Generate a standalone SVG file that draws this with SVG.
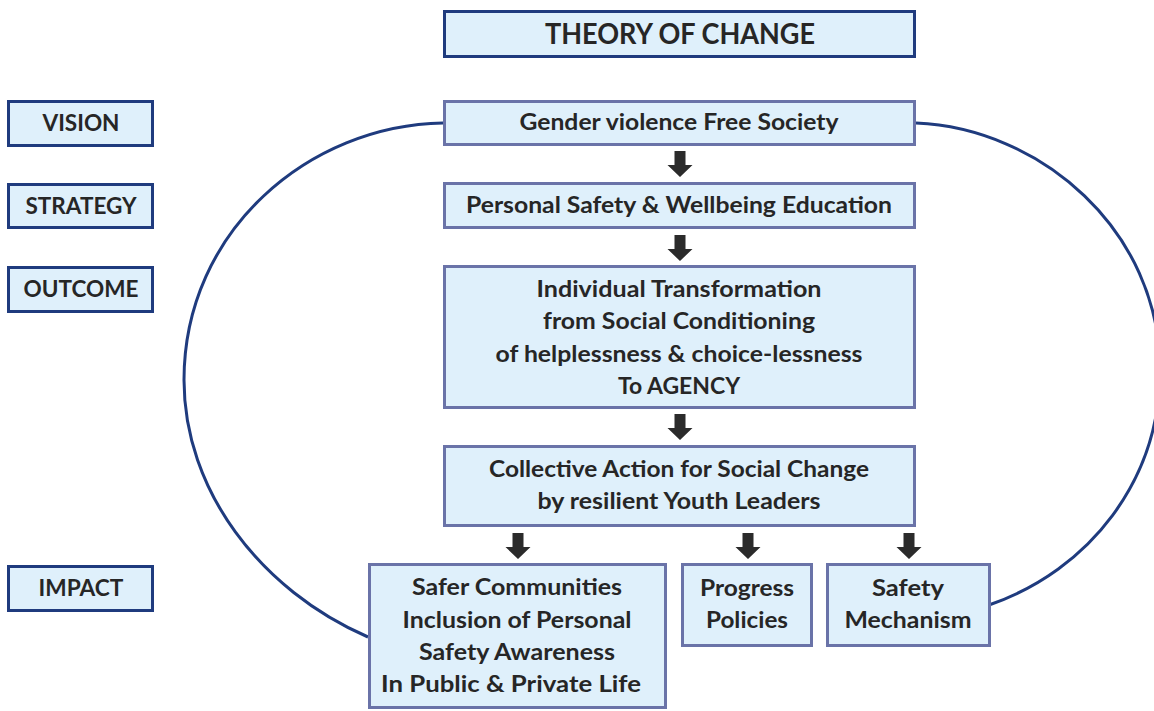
<svg xmlns="http://www.w3.org/2000/svg" width="1154" height="711" viewBox="0 0 1154 711">
<defs>
<style>
.bx{fill:#dff0fb;stroke:#6a73a8;stroke-width:3}
.hd{fill:#dff0fb;stroke:#1f3b7e;stroke-width:3}
.t{font-family:Lato,"Open Sans","Liberation Sans",sans-serif;font-weight:bold;fill:#262626;font-size:22px;text-anchor:middle}
.tt{font-size:28px}
.loop{fill:none;stroke:#1f3b7e;stroke-width:3}
.ar{fill:#2b2b2b}
</style>
<path id="arr" class="ar" d="M-5.5,0 H5.5 V14 H12.5 L0,26 L-12.5,14 H-5.5 Z"/>
</defs>
<rect width="1154" height="711" fill="#ffffff"/>
<g id="connectors">
<path class="loop" d="M443,123 C310,125 184,230 184,380 C184,490 260,590 368,637"/>
<path class="loop" d="M916,123 C1040,128 1160,230 1160,370 C1160,480 1090,570 989,605"/>
<use href="#arr" x="680" y="151"/>
<use href="#arr" x="680" y="235"/>
<use href="#arr" x="680" y="414"/>
<use href="#arr" x="518" y="533"/>
<use href="#arr" x="748" y="533"/>
<use href="#arr" x="909" y="533"/>
</g>
<g id="title">
<rect class="hd" x="444.5" y="11.5" width="470" height="45"/>
<text class="t tt" x="680" y="44" textLength="270" lengthAdjust="spacingAndGlyphs">THEORY OF CHANGE</text>
</g>
<g id="vision-label">
<rect class="hd" x="8.5" y="101.5" width="144" height="44"/>
<text class="t" x="81" y="131" textLength="77" lengthAdjust="spacingAndGlyphs">VISION</text>
</g>
<g id="strategy-label">
<rect class="hd" x="8.5" y="184.5" width="144" height="43"/>
<text class="t" x="81" y="214" textLength="111" lengthAdjust="spacingAndGlyphs">STRATEGY</text>
</g>
<g id="outcome-label">
<rect class="hd" x="8.5" y="267.5" width="144" height="44"/>
<text class="t" x="81" y="297" textLength="115" lengthAdjust="spacingAndGlyphs">OUTCOME</text>
</g>
<g id="impact-label">
<rect class="hd" x="8.5" y="566.5" width="144" height="44"/>
<text class="t" x="81" y="596" textLength="85" lengthAdjust="spacingAndGlyphs">IMPACT</text>
</g>
<g id="vision">
<rect class="bx" x="444.5" y="101.5" width="470" height="43"/>
<text class="t" x="679" y="130" textLength="319" lengthAdjust="spacingAndGlyphs">Gender violence Free Society</text>
</g>
<g id="strategy">
<rect class="bx" x="444.5" y="183.5" width="470" height="44"/>
<text class="t" x="679" y="213" textLength="426" lengthAdjust="spacingAndGlyphs">Personal Safety &amp; Wellbeing Education</text>
</g>
<g id="outcome">
<rect class="bx" x="444.5" y="266.5" width="470" height="141"/>
<text class="t" x="679" y="297" textLength="285" lengthAdjust="spacingAndGlyphs">Individual Transformation</text>
<text class="t" x="679" y="329" textLength="272" lengthAdjust="spacingAndGlyphs">from Social Conditioning</text>
<text class="t" x="679" y="362" textLength="367" lengthAdjust="spacingAndGlyphs">of helplessness &amp; choice-lessness</text>
<text class="t" x="679" y="394" textLength="122" lengthAdjust="spacingAndGlyphs">To AGENCY</text>
</g>
<g id="collective">
<rect class="bx" x="444.5" y="446.5" width="470" height="79"/>
<text class="t" x="679" y="477" textLength="380" lengthAdjust="spacingAndGlyphs">Collective Action for Social Change</text>
<text class="t" x="679" y="509" textLength="283" lengthAdjust="spacingAndGlyphs">by resilient Youth Leaders</text>
</g>
<g id="impact-communities">
<rect class="bx" x="369.5" y="564.5" width="296" height="143"/>
<text class="t" x="517" y="595" textLength="210" lengthAdjust="spacingAndGlyphs">Safer Communities</text>
<text class="t" x="517" y="628" textLength="229" lengthAdjust="spacingAndGlyphs">Inclusion of Personal</text>
<text class="t" x="517" y="660" textLength="196" lengthAdjust="spacingAndGlyphs">Safety Awareness</text>
<text class="t" x="511" y="692" textLength="260" lengthAdjust="spacingAndGlyphs">In Public &amp; Private Life</text>
</g>
<g id="impact-policies">
<rect class="bx" x="682.5" y="564.5" width="129" height="81"/>
<text class="t" x="747" y="596" textLength="94" lengthAdjust="spacingAndGlyphs">Progress</text>
<text class="t" x="747" y="628" textLength="82" lengthAdjust="spacingAndGlyphs">Policies</text>
</g>
<g id="impact-mechanism">
<rect class="bx" x="827.5" y="564.5" width="162" height="81"/>
<text class="t" x="908" y="596" textLength="72" lengthAdjust="spacingAndGlyphs">Safety</text>
<text class="t" x="908" y="628" textLength="127" lengthAdjust="spacingAndGlyphs">Mechanism</text>
</g>
</svg>
